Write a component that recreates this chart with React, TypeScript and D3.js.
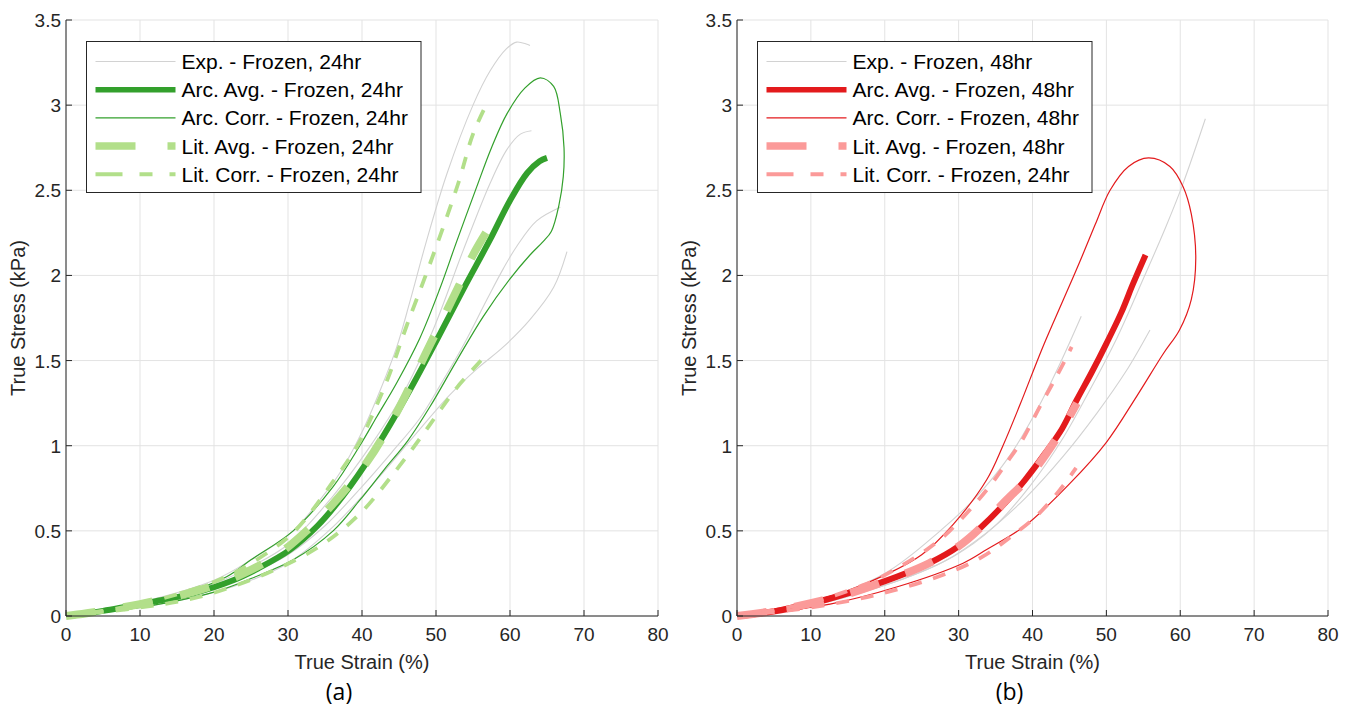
import React from "react";
import * as d3 from "d3";

type Pt = [number, number];

// ---------- tick values ----------
const xTicks = [0, 10, 20, 30, 40, 50, 60, 70, 80];
const yTicks = [0, 0.5, 1, 1.5, 2, 2.5, 3, 3.5];

// ---------- panel (a): Frozen, 24hr ----------
const expA1: Pt[] = [[0,0],[10,0.08],[20,0.21],[25,0.33],[30.7,0.5],[35,0.72],[37,0.84],[40,1.08],[42.5,1.33],[44.7,1.58],[46.5,1.85],[48.7,2.2],[51.5,2.6],[55,3.0],[57.3,3.2],[59.5,3.33],[60.9,3.37],[62.7,3.35]];
const expA2: Pt[] = [[0,0],[10,0.07],[20,0.19],[25,0.29],[30,0.42],[36,0.7],[41,0.99],[45.6,1.31],[49.6,1.68],[53.7,2.15],[57.3,2.54],[59.6,2.74],[61.4,2.83],[62.9,2.85]];
const expA3: Pt[] = [[0,0],[10,0.06],[20,0.16],[25,0.25],[30,0.36],[35,0.53],[40,0.76],[44,0.96],[47.8,1.16],[50.5,1.35],[53.7,1.59],[56.9,1.86],[59.1,2.04],[60.9,2.17],[63.6,2.32],[66.8,2.4]];
const expA4: Pt[] = [[0,0],[10,0.05],[20,0.14],[25,0.21],[30,0.31],[36,0.52],[42.4,0.82],[46.9,1.05],[51.9,1.3],[55.5,1.45],[59.1,1.58],[62.7,1.74],[65.9,1.93],[67.7,2.14]];
const arcAvgA: Pt[] = [[0.5,0],[5,0.03],[8.2,0.055],[12,0.085],[17.2,0.133],[22.6,0.21],[26,0.28],[30.3,0.39],[34,0.53],[37.5,0.71],[41.5,0.96],[46,1.29],[50.1,1.62],[53.7,1.92],[57.3,2.21],[60,2.44],[62.3,2.6],[64,2.67],[65,2.69]];
const arcCorrA: Pt[] = [[0,0],[10,0.05],[20,0.14],[25,0.22],[30.7,0.33],[36.1,0.5],[39.7,0.68],[43,0.86],[46.2,1.03],[49.2,1.23],[52.8,1.5],[56.4,1.76],[60,1.98],[62.7,2.12],[64.5,2.2],[65.6,2.26],[66.6,2.41],[67.2,2.58],[67.3,2.75],[66.8,2.95],[65.9,3.11],[64.1,3.16],[62,3.1],[59.6,2.95],[57.5,2.75],[55.5,2.52],[52.8,2.2],[50.5,1.92],[47.8,1.63],[44.7,1.37],[42,1.17],[39.7,1.0],[36.1,0.76],[30.7,0.5],[25,0.33],[21.7,0.23],[15,0.12],[8,0.05],[0,0]];
const litAvgA: Pt[] = [[0,0],[2.8,0.016],[10,0.07],[18.1,0.153],[24,0.25],[28.9,0.37],[32.5,0.5],[36.1,0.66],[40.6,0.9],[44.5,1.18],[48.7,1.55],[53,1.93],[55,2.12],[57.3,2.29]];
const litCorrA1: Pt[] = [[0,0],[10,0.07],[20,0.2],[25,0.31],[30.7,0.49],[36.1,0.79],[39.5,1.01],[41.5,1.19],[43.8,1.43],[46,1.7],[49.2,2.07],[53,2.54],[55,2.83],[57,3.02]];
const litCorrA2: Pt[] = [[0,0],[10,0.05],[18.1,0.113],[27.1,0.25],[34.3,0.41],[39.7,0.6],[44.5,0.85],[47.8,1.04],[50.1,1.18],[52.8,1.34],[56.5,1.52]];

// ---------- panel (b): Frozen, 48hr ----------
const expB1: Pt[] = [[0,0],[10,0.07],[20,0.18],[29.3,0.35],[34.7,0.52],[39.6,0.76],[44.2,1.05],[47.8,1.33],[51.4,1.63],[55,1.98],[58,2.28],[60.3,2.53],[63.4,2.92]];
const expB2: Pt[] = [[0,0],[10,0.08],[20,0.25],[27.5,0.5],[32.4,0.7],[36.9,0.94],[40.6,1.21],[43.7,1.48],[46.6,1.76]];
const expB3: Pt[] = [[0,0],[10,0.06],[20,0.18],[28,0.32],[33.8,0.49],[39.2,0.7],[44.2,0.94],[48.7,1.19],[52.7,1.44],[55.9,1.68]];
const arcAvgB: Pt[] = [[0.5,0],[8,0.05],[14.8,0.13],[21.6,0.23],[26,0.31],[30,0.41],[33,0.52],[36,0.65],[39,0.8],[41.7,0.955],[44,1.1],[46,1.27],[48,1.43],[50,1.6],[52,1.78],[53.6,1.95],[55.3,2.12]];
const arcCorrB: Pt[] = [[0,0],[12.6,0.07],[21.6,0.17],[30.6,0.31],[33.8,0.39],[39,0.53],[45.1,0.78],[50,1.02],[54.1,1.29],[57.7,1.54],[59.9,1.68],[61.5,1.86],[62.1,2.1],[61.5,2.36],[60.4,2.52],[58.6,2.64],[55.7,2.69],[53,2.64],[50.5,2.5],[48.5,2.3],[46.4,2.08],[44.2,1.86],[41.4,1.58],[38.3,1.24],[36,1.0],[33.8,0.8],[29.3,0.54],[25,0.36],[20,0.24],[15,0.15],[10,0.09],[5,0.04],[0,0]];
const litAvgB: Pt[] = [[0,0],[5,0.03],[10,0.075],[15,0.13],[21.6,0.23],[26,0.31],[30,0.41],[33,0.52],[36,0.66],[39.2,0.8],[41.9,0.955],[44.2,1.11],[46,1.25]];
const litCorrB1: Pt[] = [[0,0],[10,0.08],[17,0.18],[20,0.24],[25.7,0.39],[28.8,0.5],[33.8,0.74],[36.5,0.9],[38.7,1.04],[41,1.23],[43.3,1.41],[45.3,1.58]];
const litCorrB2: Pt[] = [[0,0],[10,0.05],[19.4,0.13],[28.4,0.25],[33.3,0.35],[36.9,0.46],[40.6,0.59],[43.7,0.74],[45.9,0.87]];

const legendA = ["Exp. - Frozen, 24hr", "Arc. Avg. - Frozen, 24hr", "Arc. Corr. - Frozen, 24hr", "Lit. Avg. - Frozen, 24hr", "Lit. Corr. - Frozen, 24hr"];
const legendB = ["Exp. - Frozen, 48hr", "Arc. Avg. - Frozen, 48hr", "Arc. Corr. - Frozen, 48hr", "Lit. Avg. - Frozen, 48hr", "Lit. Corr. - Frozen, 24hr"];

const GRAY = "#d2d2d2";
const FONT = "'Liberation Sans', Arial, Helvetica, sans-serif";

interface PanelProps {
  x0: number; x1: number;
  dark: string; light: string;
  exps: Pt[][]; arcAvg: Pt[]; arcCorr: Pt[]; litAvg: Pt[]; litCorr: Pt[][];
  legend: string[]; caption: string;
}

const Y0 = 616, Y1 = 20;

function Panel(p: PanelProps) {
  const x = d3.scaleLinear().domain([0, 80]).range([p.x0, p.x1]);
  const y = d3.scaleLinear().domain([0, 3.5]).range([Y0, Y1]);
  const line = d3.line<Pt>().x(d => x(d[0])).y(d => y(d[1])).curve(d3.curveCatmullRom.alpha(0.5));
  const lx = p.x0 + 20.5, ly = 41.5, lw = 334.5, lh = 151;
  const rows = [0, 1, 2, 3, 4].map(i => ly + 20 + i * 28.2);
  const segX0 = lx + 9, segX1 = lx + 89;
  const cx = (p.x0 + p.x1) / 2;
  return (
    <g>
      {xTicks.map(t => <line key={"gx" + t} x1={x(t)} x2={x(t)} y1={Y0} y2={Y1} stroke="#e3e3e3" strokeWidth={1} />)}
      {yTicks.map(t => <line key={"gy" + t} x1={p.x0} x2={p.x1} y1={y(t)} y2={y(t)} stroke="#e3e3e3" strokeWidth={1} />)}
      <g fill="none" strokeLinecap="butt" strokeLinejoin="round">
        {p.exps.map((e, i) => <path key={"e" + i} d={line(e) || ""} stroke={GRAY} strokeWidth={1.1} />)}
        <path d={line(p.arcAvg) || ""} stroke={p.dark} strokeWidth={6} />
        <path d={line(p.arcCorr) || ""} stroke={p.dark} strokeWidth={1.2} />
        <path d={line(p.litAvg) || ""} stroke={p.light} strokeWidth={8} strokeDasharray="30,28" />
        {p.litCorr.map((c, i) => <path key={"lc" + i} d={line(c) || ""} stroke={p.light} strokeWidth={3.8} strokeDasharray="13,12" />)}
      </g>
      <line x1={p.x0} x2={p.x0} y1={Y0} y2={Y1} stroke="#262626" strokeWidth={1} />
      <line x1={p.x0} x2={p.x1} y1={Y0} y2={Y0} stroke="#262626" strokeWidth={1} />
      {xTicks.map(t => (
        <g key={"xt" + t}>
          <line x1={x(t)} x2={x(t)} y1={Y0} y2={Y0 - 6} stroke="#262626" />
          <text x={x(t)} y={641} textAnchor="middle" fontSize={19} fontFamily={FONT} fill="#262626">{t}</text>
        </g>
      ))}
      {yTicks.map(t => (
        <g key={"yt" + t}>
          <line x1={p.x0} x2={p.x0 + 6} y1={y(t)} y2={y(t)} stroke="#262626" />
          <text x={p.x0 - 5} y={y(t) + 7} textAnchor="end" fontSize={19} fontFamily={FONT} fill="#262626">{String(t)}</text>
        </g>
      ))}
      <text x={cx} y={669} textAnchor="middle" fontSize={20} fontFamily={FONT} fill="#262626">True Strain (%)</text>
      <text transform={`translate(${p.x0 - 41},${(Y0 + Y1) / 2}) rotate(-90)`} textAnchor="middle" fontSize={20} fontFamily={FONT} fill="#262626">True Stress (kPa)</text>
      <text x={cx - 23} y={700} textAnchor="middle" fontSize={23} fontFamily="'Open Sans', 'Noto Sans', sans-serif" fill="#000">{p.caption}</text>
      <rect x={lx} y={ly} width={lw} height={lh} fill="#fff" stroke="#262626" strokeWidth={1} />
      <line x1={segX0} x2={segX1} y1={rows[0]} y2={rows[0]} stroke={GRAY} strokeWidth={1.1} />
      <line x1={segX0} x2={segX1} y1={rows[1]} y2={rows[1]} stroke={p.dark} strokeWidth={5.5} />
      <line x1={segX0} x2={segX1} y1={rows[2]} y2={rows[2]} stroke={p.dark} strokeWidth={1.2} />
      <line x1={segX0} x2={segX1} y1={rows[3]} y2={rows[3]} stroke={p.light} strokeWidth={7.5} strokeDasharray="40,32" />
      <line x1={segX0} x2={segX1} y1={rows[4]} y2={rows[4]} stroke={p.light} strokeWidth={4} strokeDasharray="27,17,13,17" />
      {p.legend.map((s, i) => (
        <text key={"lg" + i} x={lx + 95} y={rows[i] + 7.5} fontSize={21} fontFamily={FONT} fill="#000">{s}</text>
      ))}
    </g>
  );
}

export default function App() {
  return (
    <svg width={1352} height={709} style={{ position: "absolute", left: 0, top: 0, background: "#fff" }}>
      <rect x={0} y={0} width={1352} height={709} fill="#fff" />
      <Panel x0={66} x1={658} dark="#33a02c" light="#b2df8a"
        exps={[expA1, expA2, expA3, expA4]} arcAvg={arcAvgA} arcCorr={arcCorrA}
        litAvg={litAvgA} litCorr={[litCorrA1, litCorrA2]} legend={legendA} caption="(a)" />
      <Panel x0={737} x1={1328} dark="#e31a1c" light="#fb9a99"
        exps={[expB1, expB2, expB3]} arcAvg={arcAvgB} arcCorr={arcCorrB}
        litAvg={litAvgB} litCorr={[litCorrB1, litCorrB2]} legend={legendB} caption="(b)" />
    </svg>
  );
}
